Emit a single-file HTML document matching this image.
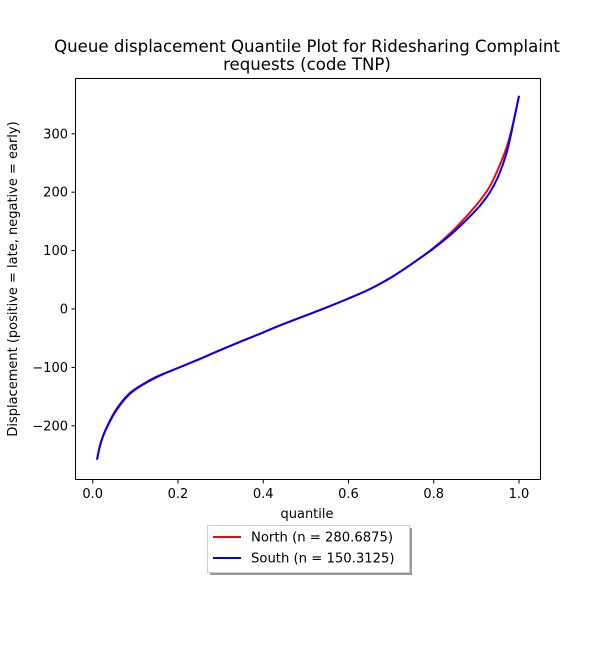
<!DOCTYPE html>
<html><head><meta charset="utf-8"><style>
body{margin:0;background:#fff;}
svg text{font-family:"DejaVu Sans","Liberation Sans",sans-serif;fill:#000;}
</style></head><body>
<svg id="chart" width="600" height="650" viewBox="0 0 600 650" xmlns="http://www.w3.org/2000/svg">
<rect width="600" height="650" fill="#fff"/>
<text x="307" y="52" font-size="16.6" text-anchor="middle">Queue displacement Quantile Plot for Ridesharing Complaint</text>
<text x="307" y="70" font-size="16.6" text-anchor="middle">requests (code TNP)</text>
<g id="axes"></g>
<g id="series"></g>
<rect x="75.5" y="78.5" width="465" height="401" fill="none" stroke="#000" stroke-width="1"/>
<text x="307" y="518" font-size="13" text-anchor="middle">quantile</text>
<text transform="translate(17,279) rotate(-90)" font-size="13" text-anchor="middle">Displacement (positive = late, negative = early)</text>
<g>
<rect x="210" y="528" width="202" height="47" fill="#555" opacity="0.6"/>
<rect x="207.5" y="525.5" width="202" height="47" fill="#fff" stroke="#ccc"/>
<line x1="213" y1="537" x2="241" y2="537" stroke="#f00" stroke-width="2"/>
<text x="251" y="541.5" font-size="13.2">North (n = 280.6875)</text>
<line x1="213" y1="558" x2="241" y2="558" stroke="#00f" stroke-width="2"/>
<text x="251" y="562.5" font-size="13.2">South (n = 150.3125)</text>
</g>
</svg>
<script>
const quantiles=[0.01,0.015,0.02,0.03,0.05,0.075,0.1,0.15,0.2,0.25,0.3,0.35,0.4,0.45,0.5,0.55,0.6,0.65,0.7,0.75,0.8,0.85,0.9,0.93,0.95,0.97,0.98,0.99,1.0];
const northValues=[-258,-241,-227,-208,-180,-155,-138,-117,-101,-86,-70,-55,-40,-25,-11,3,18,34,54,78,105,138,178,208,238,275,300,330,365];
const southValues=[-258,-240,-226,-207,-178,-153,-137,-116,-101,-86,-70,-55,-40,-25,-11,3,18,34,54,78,104,134,170,198,225,265,295,330,365];
const xTicks=[0,0.2,0.4,0.6,0.8,1.0];
const xTickLabels=["0.0","0.2","0.4","0.6","0.8","1.0"];
const yTicks=[-200,-100,0,100,200,300];
const yTickLabels=["\u2212200","\u2212100","0","100","200","300"];
const NS="http://www.w3.org/2000/svg";
function xs(v){return 92.75+v*426.25;}
function ys(v){return 309-v*0.584;}
const axes=document.getElementById('axes');
xTicks.forEach((t,i)=>{
 const l=document.createElementNS(NS,'line');
 
 
 l.setAttribute('x1',xs(t));l.setAttribute('x2',xs(t));l.setAttribute('y1',479.5);l.setAttribute('y2',483.5);l.setAttribute('stroke','#000');
 axes.appendChild(l);
 const tx=document.createElementNS(NS,'text');
 
 
 tx.setAttribute('x',xs(t));tx.setAttribute('y',498);tx.setAttribute('font-size','13');tx.setAttribute('text-anchor','middle');
 tx.textContent=xTickLabels[i];axes.appendChild(tx);
});
yTicks.forEach((t,i)=>{
 const l=document.createElementNS(NS,'line');
 
 
 l.setAttribute('x1',71.5);l.setAttribute('x2',75.5);l.setAttribute('y1',ys(t));l.setAttribute('y2',ys(t));l.setAttribute('stroke','#000');
 axes.appendChild(l);
 const tx=document.createElementNS(NS,'text');
 
 
 tx.setAttribute('x',68);tx.setAttribute('y',ys(t)+4.5);tx.setAttribute('font-size','13');tx.setAttribute('text-anchor','end');
 tx.textContent=yTickLabels[i];axes.appendChild(tx);
});
const series=document.getElementById('series');
function draw(vals,color,name){
 const pts=quantiles.map((q,i)=>[xs(q),ys(vals[i])]);
 let d='M'+pts[0][0].toFixed(1)+','+pts[0][1].toFixed(1);
 for(let i=0;i<pts.length-1;i++){
  const p0=pts[Math.max(0,i-1)],p1=pts[i],p2=pts[i+1],p3=pts[Math.min(pts.length-1,i+2)];
  const c1=[p1[0]+(p2[0]-p0[0])/6,p1[1]+(p2[1]-p0[1])/6];
  const c2=[p2[0]-(p3[0]-p1[0])/6,p2[1]-(p3[1]-p1[1])/6];
  d+=' C'+c1[0].toFixed(1)+','+c1[1].toFixed(1)+' '+c2[0].toFixed(1)+','+c2[1].toFixed(1)+' '+p2[0].toFixed(1)+','+p2[1].toFixed(1);
 }
 const p=document.createElementNS(NS,'path');
 
 
 p.setAttribute('d',d);
 p.setAttribute('fill','none');p.setAttribute('stroke',color);p.setAttribute('stroke-width','2');p.setAttribute('stroke-linejoin','round');
 series.appendChild(p);
}
draw(northValues,'#f00','north-line');
draw(southValues,'#00f','south-line');
</script>
</body></html>
